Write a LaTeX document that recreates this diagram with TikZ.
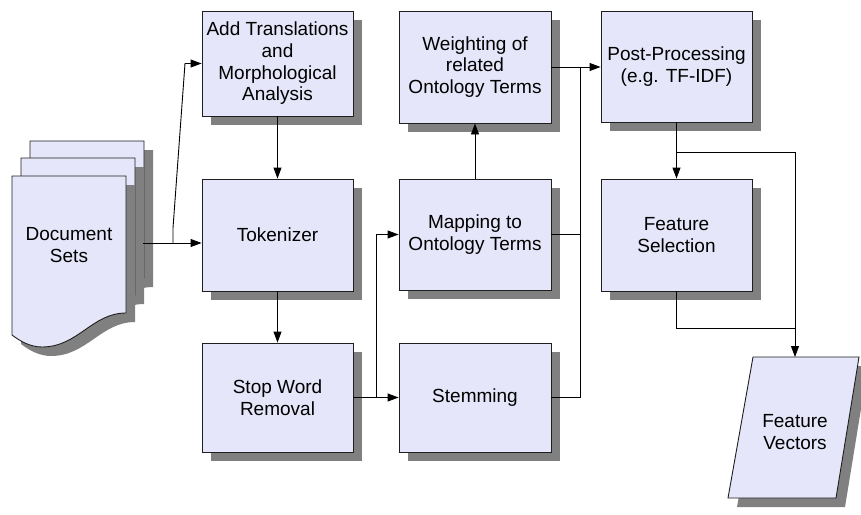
\documentclass[tikz,border=0pt]{standalone}
\usepackage{fontspec}
\setmainfont{Liberation Sans}
\usetikzlibrary{shadows,arrows.meta,calc}
\definecolor{boxfill}{RGB}{230,230,250}
\definecolor{shadowgray}{RGB}{128,128,128}
\definecolor{edgec}{RGB}{30,30,30}
\tikzset{
  procbox/.style={draw=edgec, line width=0.9pt, fill=boxfill, inner sep=0pt, align=center,
    font=\fontsize{19}{21.7}\selectfont,
    drop shadow={shadow xshift=9pt, shadow yshift=-9pt, fill=shadowgray, opacity=1}},
  lbl/.style={inner sep=0pt, align=center, font=\fontsize{19}{21.7}\selectfont},
  arr/.style={draw=black, line width=0.9pt, -{Triangle[length=11pt,width=8pt]}},
  conn/.style={draw=black, line width=0.9pt},
  docfill/.style={draw=edgec, line width=0.9pt, fill=boxfill},
  docshadow/.style={fill=shadowgray}
}
\newcommand{\docpath}[2]{%
  (#1,#2) -- (#1+114,#2) -- (#1+114,#2+137)
  .. controls (#1+80,#2+137) and (#1+66,#2+171) .. (#1+30,#2+171)
  .. controls (#1+18,#2+171) and (#1+8,#2+165) .. (#1,#2+159) -- cycle}
\begin{document}
\begin{tikzpicture}[x=1pt,y=-1pt]
\useasboundingbox (0,0) rectangle (861,514);

% document stack
\fill[docshadow] \docpath{39}{150};
\draw[docfill] \docpath{30}{141};
\fill[docshadow] \docpath{30}{167};
\draw[docfill] \docpath{21}{158};
\fill[docshadow] \docpath{21}{185};
\draw[docfill] \docpath{12}{176};
\node[lbl] (docs) at (69,245) {Document\\Sets};
\coordinate (docout) at (143,243);

% process boxes
\node[procbox, minimum width=151pt, minimum height=105pt] (add) at (277.5,63.5) {Add Translations\\and\\Morphological\\Analysis};
\node[procbox, minimum width=151pt, minimum height=112pt] (tok) at (277.5,235) {Tokenizer};
\node[procbox, minimum width=151pt, minimum height=109pt] (stop) at (277.5,397.5) {Stop Word\\Removal};
\node[procbox, minimum width=152pt, minimum height=112pt] (weight) at (475,67) {Weighting of\\related\\Ontology Terms};
\node[procbox, minimum width=152pt, minimum height=111pt] (map) at (475,234.5) {Mapping to\\Ontology Terms};
\node[procbox, minimum width=152pt, minimum height=109pt] (stem) at (475,397.5) {Stemming};
\node[procbox, minimum width=151pt, minimum height=111pt] (post) at (676.5,66.5) {Post-Processing\\(e.g. TF-IDF)};
\node[procbox, minimum width=151pt, minimum height=112pt] (fsel) at (676.5,235) {Feature\\Selection};

% feature vectors (parallelogram)
\fill[shadowgray] (762,366) -- (868,366) -- (845,507) -- (737,507) -- cycle;
\draw[docfill] (753,357) -- (859,357) -- (836,498) -- (728,498) -- cycle;
\node[lbl] (fvec) at (795,432) {Feature\\Vectors};
\coordinate (fvtop) at (795,357);

% junctions
\coordinate (j1) at (173,243);
\coordinate (j2) at (376,397.5);
\coordinate (j3) at (580,67);
\coordinate (j4) at (676.5,152);
\coordinate (j5) at (795,328);

% connectors
\draw[arr] (docout) -- (docout -| tok.west);
\draw[arr] (j1) -- (173,228) -- (185,63.5) -- (add.west);
\draw[arr] (add.south) -- (tok.north);
\draw[arr] (tok.south) -- (stop.north);
\draw[arr] (stop.east) -- (stem.west);
\draw[arr] (j2) |- (map.west);
\draw[arr] (map.north) -- (weight.south);
\draw[arr] (weight.east) -- (weight.east -| post.west);
\draw[conn] (map.east) -| (j3);
\draw[conn] (stem.east) -| (j3);
\draw[arr] (post.south) -- (fsel.north);
\draw[arr] (j4) -| (fvtop);
\draw[conn] (fsel.south) |- (j5);
\end{tikzpicture}
\end{document}
